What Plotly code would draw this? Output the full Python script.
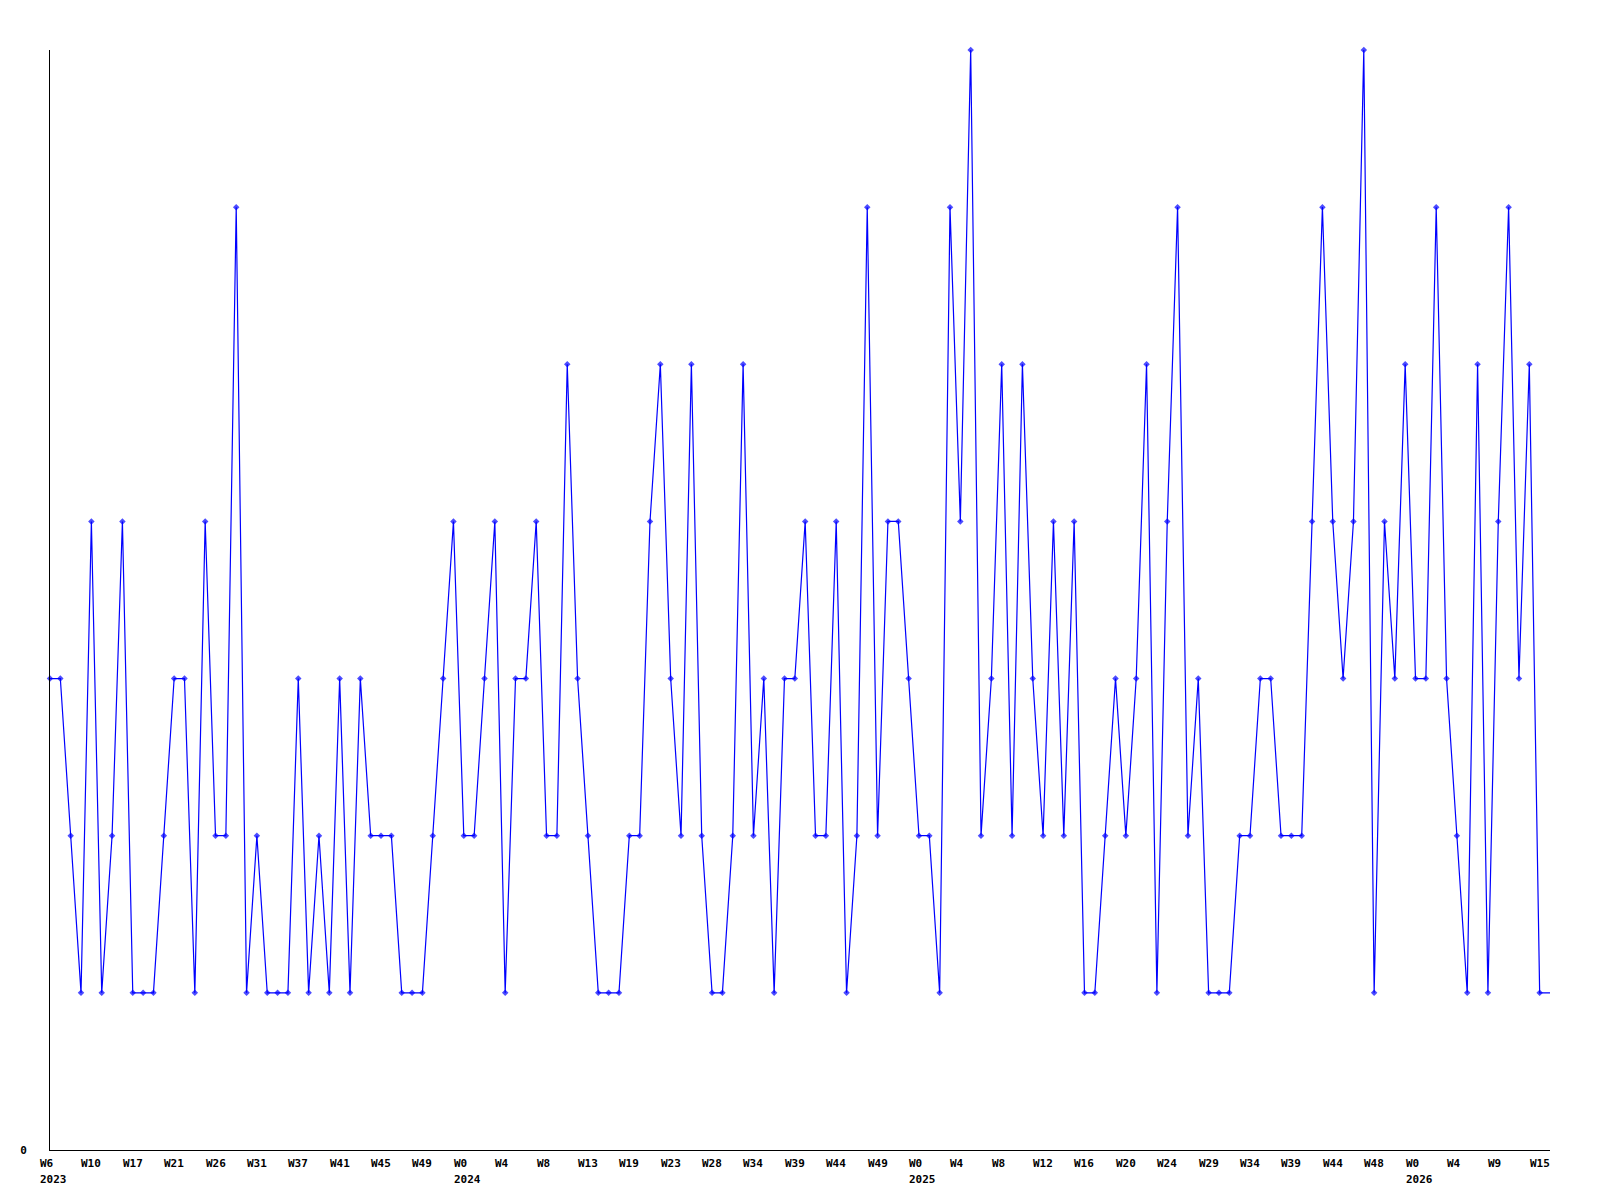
import plotly.graph_objects as go

# Weekly values (one point per plotted week, in order)
values = [
    3, 3, 2, 1, 4, 1, 2, 4, 1, 1, 1, 2, 3, 3, 1, 4, 2, 2, 6, 1, 2, 1, 1, 1,
    3, 1, 2, 1, 3, 1, 3, 2, 2, 2, 1, 1, 1, 2, 3, 4, 2, 2, 3, 4, 1, 3, 3, 4,
    2, 2, 5, 3, 2, 1, 1, 1, 2, 2, 4, 5, 3, 2, 5, 2, 1, 1, 2, 5, 2, 3, 1, 3,
    3, 4, 2, 2, 4, 1, 2, 6, 2, 4, 4, 3, 2, 2, 1, 6, 4, 7, 2, 3, 5, 2, 5, 3,
    2, 4, 2, 4, 1, 1, 2, 3, 2, 3, 5, 1, 4, 6, 2, 3, 1, 1, 1, 2, 2, 3, 3, 2,
    2, 2, 4, 6, 4, 3, 4, 7, 1, 4, 3, 5, 3, 3, 6, 3, 2, 1, 5, 1, 4, 6, 3, 5,
    1, 1,
]

# Tick labels: one every 4 points
week_labels = ["W6", "W10", "W17", "W21", "W26", "W31", "W37", "W41", "W45", "W49",
               "W0", "W4", "W8", "W13", "W19", "W23", "W28", "W34", "W39", "W44", "W49",
               "W0", "W4", "W8", "W12", "W16", "W20", "W24", "W29", "W34", "W39", "W44", "W48",
               "W0", "W4", "W9", "W15"]
year_labels = {0: "2023", 10: "2024", 21: "2025", 33: "2026"}
tick_step = 4

x = list(range(len(values)))
sizes = [5] * (len(values) - 1) + [0]

fig = go.Figure()
fig.add_trace(go.Scatter(
    x=x, y=values, mode="lines+markers",
    line=dict(color="#0000ff", width=1.2),
    marker=dict(symbol="diamond", size=sizes, color="#0000ff", line=dict(width=0)),
    cliponaxis=False, showlegend=False, hoverinfo="skip",
))

font = dict(family="DejaVu Sans Mono", size=11, color="black", weight="bold")
annotations = []
for k, lab in enumerate(week_labels):
    xi = k * tick_step
    annotations.append(dict(x=xi, xref="x", y=-0.0127, yref="paper", text=lab,
                            showarrow=False, xanchor="left", yanchor="middle",
                            xshift=-12, font=font))
    if k in year_labels:
        annotations.append(dict(x=xi, xref="x", y=-0.0264, yref="paper", text=year_labels[k],
                                showarrow=False, xanchor="left", yanchor="middle",
                                xshift=-12, font=font))

fig.update_layout(
    width=1600, height=1200,
    margin=dict(l=50, r=50, t=50, b=50),
    plot_bgcolor="white", paper_bgcolor="white",
    annotations=annotations,
    hovermode=False,
    xaxis=dict(range=[0, len(values) - 1], showgrid=False, zeroline=False,
               showline=True, linecolor="black", linewidth=1,
               showticklabels=False, ticks=""),
    yaxis=dict(range=[0, 7], showgrid=False, zeroline=False,
               showline=True, linecolor="black", linewidth=1,
               tickvals=[0], ticktext=["0"], ticks="",
               ticklabelstandoff=20, tickfont=font),
)

fig.write_html("out.html", config={"displayModeBar": False},
               post_script="document.body.style.margin='0';")
